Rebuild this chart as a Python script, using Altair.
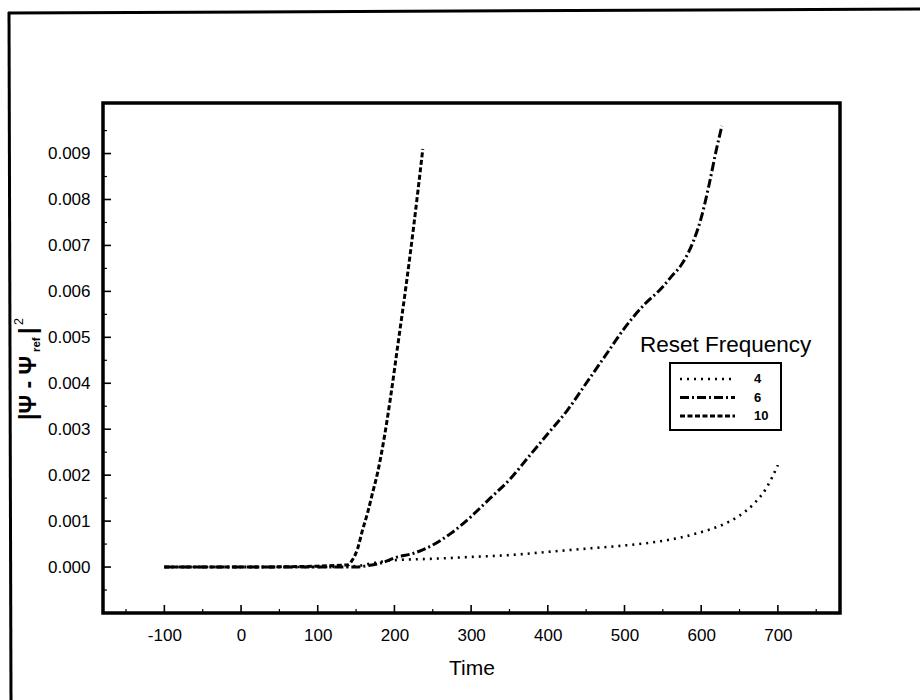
import altair as alt
import pandas as pd

# Error norm |psi - psi_ref|^2 against time for three reset frequencies
t_4 = [-100, 0, 100, 150, 170, 200, 250, 300, 350, 400, 450, 500, 550, 575, 600, 625, 650, 670, 685, 700]
v_4 = [0.0, 0.0, 0.0, 0.00002, 0.00008, 0.00015, 0.00018, 0.00022, 0.00026, 0.00033, 0.00040, 0.00047,
       0.00057, 0.00065, 0.00076, 0.00090, 0.00112, 0.00140, 0.00172, 0.00222]

t_6 = [-100, 0, 100, 150, 165, 185, 200, 225, 250, 275, 300, 325, 350, 375, 400, 425, 450, 475, 500,
       525, 550, 560, 575, 590, 600, 610, 620, 627]
v_6 = [0.0, 0.0, 0.0, 0.0, 0.00003, 0.00010, 0.00020, 0.00030, 0.00048, 0.00075, 0.00110, 0.00150,
       0.00190, 0.00240, 0.00290, 0.00340, 0.00400, 0.00460, 0.00520, 0.00570, 0.00610, 0.00630,
       0.00660, 0.00710, 0.00760, 0.00830, 0.00910, 0.00960]

t_10 = [-100, 0, 100, 130, 140, 145, 152, 158, 165, 171, 178, 185, 195, 205, 215, 225, 237]
v_10 = [0.0, 0.0, 0.00002, 0.00004, 0.00005, 0.00015, 0.00040, 0.00078, 0.00118, 0.00158, 0.00205,
        0.00265, 0.00370, 0.00490, 0.00610, 0.00740, 0.00910]

freq_names = ["4", "6", "10"]

x_major = [-100, 0, 100, 200, 300, 400, 500, 600, 700]
x_minor = [-150, -50, 50, 150, 250, 350, 450, 550, 650, 750]
y_major = [0.000, 0.001, 0.002, 0.003, 0.004, 0.005, 0.006, 0.007, 0.008, 0.009]
y_minor = [-0.0005, 0.0005, 0.0015, 0.0025, 0.0035, 0.0045, 0.0055, 0.0065, 0.0075, 0.0085, 0.0095]

curves = pd.concat([
    pd.DataFrame({"time": t_4, "value": v_4, "freq": "4"}),
    pd.DataFrame({"time": t_6, "value": v_6, "freq": "6"}),
    pd.DataFrame({"time": t_10, "value": v_10, "freq": "10"}),
], ignore_index=True)

W, H = 737, 510
FONT = "Liberation Sans"

line_style = {
    "4": dict(strokeDash=[2, 5], strokeWidth=2.6),
    "6": dict(strokeDash=[9, 3, 2, 3], strokeWidth=3),
    "10": dict(strokeDash=[5, 2.5], strokeWidth=3),
}

x_scale = alt.Scale(domain=[-180, 781], nice=False, zero=False)
y_scale = alt.Scale(domain=[-0.001, 0.0101], nice=False, zero=False)

x_axis = alt.Axis(values=x_major, ticks=False, domain=False, grid=False, tickSize=0,
                  labelExpr="replace(datum.label, '\u2212', '-')",
                  labelFont=FONT, labelFontSize=17, labelColor="black", labelPadding=14,
                  title="Time", titleFont=FONT, titleFontSize=21, titleFontWeight="normal",
                  titleColor="black", titlePadding=14)
y_axis = alt.Axis(values=y_major, format=".3f", ticks=False, domain=False, grid=False, tickSize=0,
                  labelFont=FONT, labelFontSize=17, labelColor="black", labelPadding=13,
                  title=None)


def xq(field="time"):
    return alt.X(f"{field}:Q", scale=x_scale, axis=x_axis)


def yq(field="value"):
    return alt.Y(f"{field}:Q", scale=y_scale, axis=y_axis)


base = alt.Chart(curves)

lines = [
    base.transform_filter(alt.datum.freq == name)
    .mark_line(color="black", interpolate="monotone", **line_style[name])
    .encode(x=xq(), y=yq())
    for name in freq_names
]

# inward-pointing tick marks on the bottom and left frame edges
xt_major = alt.Chart(pd.DataFrame({"time": x_major})).mark_rule(color="black", strokeWidth=1.6).encode(
    x=xq(), y=alt.value(H), y2=alt.value(H - 8))
xt_minor = alt.Chart(pd.DataFrame({"time": x_minor})).mark_rule(color="black", strokeWidth=1.2).encode(
    x=xq(), y=alt.value(H), y2=alt.value(H - 4))
yt_major = alt.Chart(pd.DataFrame({"value": y_major})).mark_rule(color="black", strokeWidth=1.6).encode(
    y=yq(), x=alt.value(0), x2=alt.value(8))
yt_minor = alt.Chart(pd.DataFrame({"value": y_minor})).mark_rule(color="black", strokeWidth=1.2).encode(
    y=yq(), x=alt.value(0), x2=alt.value(4))

# y-axis title: |Psi - Psi_ref|^2 built from rotated text pieces
tx = -74
ytitle = [
    alt.Chart(pd.DataFrame({"s": ["|Ψ - Ψ"]})).mark_text(
        angle=270, align="left", baseline="middle", font=FONT, fontSize=23, fontWeight="bold",
        color="black").encode(text="s:N", x=alt.value(tx), y=alt.value(317)),
    alt.Chart(pd.DataFrame({"s": ["ref"]})).mark_text(
        angle=270, align="left", baseline="middle", font=FONT, fontSize=11.5, fontWeight="bold",
        color="black").encode(text="s:N", x=alt.value(tx + 8), y=alt.value(249)),
    alt.Chart(pd.DataFrame({"s": ["|"]})).mark_text(
        angle=270, align="left", baseline="middle", font=FONT, fontSize=23, fontWeight="bold",
        color="black").encode(text="s:N", x=alt.value(tx), y=alt.value(231)),
    alt.Chart(pd.DataFrame({"s": ["2"]})).mark_text(
        angle=270, align="left", baseline="middle", font=FONT, fontSize=12.5,
        color="black").encode(text="s:N", x=alt.value(tx - 10), y=alt.value(222)),
]

# legend: title, framed box, one dashed sample and label per frequency
legend_layers = [
    alt.Chart(pd.DataFrame({"s": ["Reset Frequency"]})).mark_text(
        align="left", baseline="alphabetic", font=FONT, fontSize=22.5, color="black").encode(
        text="s:N", x=alt.value(537), y=alt.value(249)),
    alt.Chart(pd.DataFrame({"s": ["box"]})).mark_rect(
        fill="white", stroke="black", strokeWidth=2).encode(
        x=alt.value(567), x2=alt.value(678), y=alt.value(260), y2=alt.value(327)),
]
row_y = [276, 294.5, 313]
for name, ry in zip(freq_names, row_y):
    legend_layers.append(
        alt.Chart(pd.DataFrame({"freq": [name]})).mark_rule(color="black", **line_style[name]).encode(
            x=alt.value(577), x2=alt.value(632), y=alt.value(ry)))
    legend_layers.append(
        alt.Chart(pd.DataFrame({"freq": [name]})).mark_text(
            align="left", baseline="middle", font=FONT, fontSize=13, fontWeight="bold",
            color="black").encode(text="freq:N", x=alt.value(651), y=alt.value(ry)))

# outer page frame (top and left edges)
frame = [
    alt.Chart(pd.DataFrame({"e": ["top"]})).mark_rule(color="black", strokeWidth=3).encode(
        x=alt.value(-95), x2=alt.value(817), y=alt.value(-90), y2=alt.value(-94)),
    alt.Chart(pd.DataFrame({"e": ["left"]})).mark_rule(color="black", strokeWidth=3).encode(
        x=alt.value(-94), x2=alt.value(-92), y=alt.value(-91), y2=alt.value(597)),
]

chart = alt.layer(
    *lines, xt_major, xt_minor, yt_major, yt_minor, *ytitle, *legend_layers, *frame
).properties(
    width=W, height=H,
    autosize=alt.AutoSizeParams(type="none"),
    padding={"left": 103, "top": 103, "right": 80, "bottom": 87},
    background="white",
).configure_view(
    stroke="black", strokeWidth=3.5
)

chart.save("out.html", embed_options={"renderer": "svg", "actions": False})
